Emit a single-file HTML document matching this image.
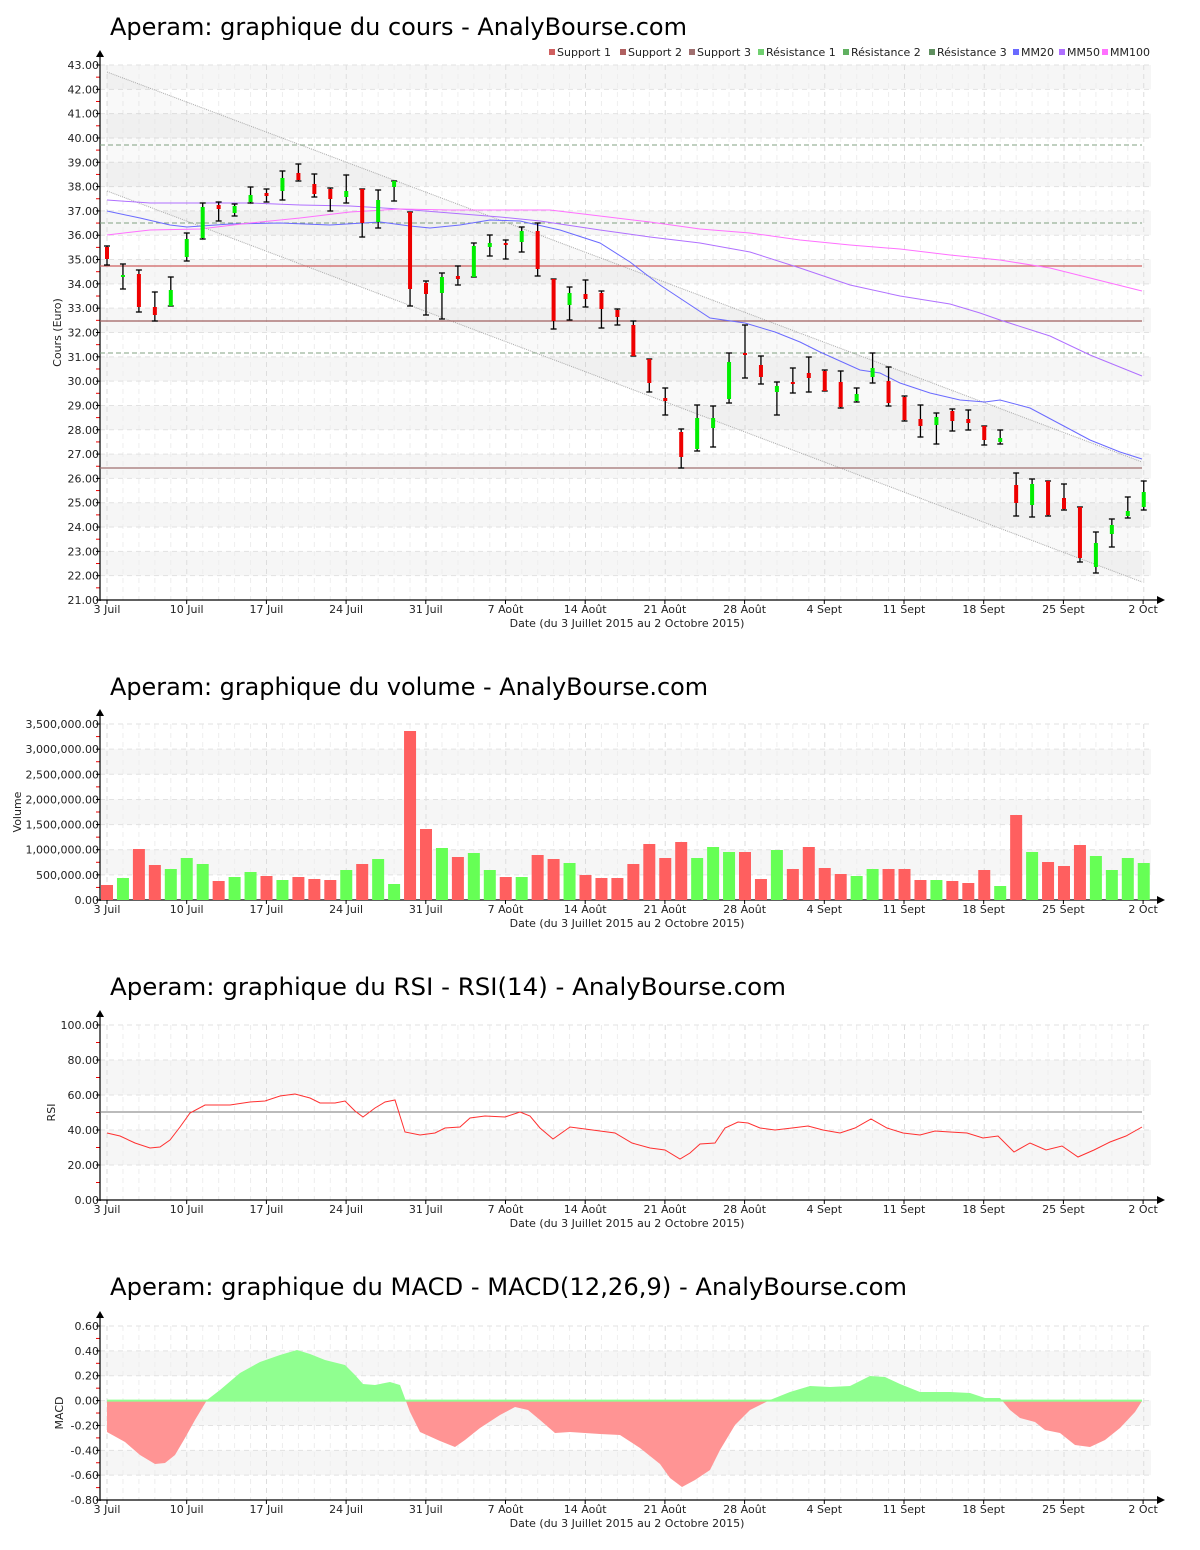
<!DOCTYPE html>
<html><head><meta charset="utf-8"><style>
body{margin:0;background:#fff;}
svg{display:block;font-family:"DejaVu Sans","Liberation Sans",sans-serif;}
</style></head><body>
<svg id="s" width="1200" height="1550" xmlns="http://www.w3.org/2000/svg">
<text x="110" y="35" font-size="24" fill="#000" textLength="577" lengthAdjust="spacingAndGlyphs">Aperam: graphique du cours - AnalyBourse.com</text>
<text x="110" y="695" font-size="24" fill="#000" textLength="598" lengthAdjust="spacingAndGlyphs">Aperam: graphique du volume - AnalyBourse.com</text>
<text x="110" y="995" font-size="24" fill="#000" textLength="676" lengthAdjust="spacingAndGlyphs">Aperam: graphique du RSI - RSI(14) - AnalyBourse.com</text>
<text x="110" y="1295" font-size="24" fill="#000" textLength="797" lengthAdjust="spacingAndGlyphs">Aperam: graphique du MACD - MACD(12,26,9) - AnalyBourse.com</text>
<g id="g"></g>
</svg>
<script>
var g=document.getElementById('g');var h='';
function X(i){return 107+i*15.95;}
var dates=['3 Juil','10 Juil','17 Juil','24 Juil','31 Juil','7 Août','14 Août','21 Août','28 Août','4 Sept','11 Sept','18 Sept','25 Sept','2 Oct'];
function frame(top,bot,bands,ylabels,ylab,ylabX){
 bands.forEach(function(b){h+='<rect x="100" y="'+b[0]+'" width="1051" height="'+(b[1]-b[0])+'" fill="#f6f6f6"/>';});
 for(var i=0;i<66;i++){var x=X(i);h+='<line x1="'+x+'" y1="'+top+'" x2="'+x+'" y2="'+bot+'" stroke="'+(i%5==0?'#ddd':'#eee')+'" stroke-dasharray="5,4"/>';}
 ylabels.forEach(function(l){h+='<line x1="100" y1="'+l[0]+'" x2="1151" y2="'+l[0]+'" stroke="#e2e2e2" stroke-dasharray="5,4"/>';
  h+='<text x="99" y="'+(l[0]+4)+'" font-size="11" text-anchor="end" fill="#222">'+l[1]+'</text>';
  h+='<line x1="96" y1="'+l[0]+'" x2="100" y2="'+l[0]+'" stroke="#000"/>';});
 for(var k=0;k<ylabels.length-1;k++){var ym=(ylabels[k][0]+ylabels[k+1][0])/2;h+='<line x1="96" y1="'+ym+'" x2="100" y2="'+ym+'" stroke="#e00"/>';}
 h+='<line x1="100" y1="'+(top-8)+'" x2="100" y2="'+(bot+1)+'" stroke="#000" stroke-width="1.2"/>';
 h+='<polygon points="96,'+(top-8)+' 104,'+(top-8)+' 100,'+(top-15)+'" fill="#000"/>';
 h+='<line x1="96" y1="'+bot+'" x2="1160" y2="'+bot+'" stroke="#000" stroke-width="1.2"/>';
 h+='<polygon points="1157,'+(bot-4)+' 1157,'+(bot+4)+' 1165,'+bot+'" fill="#000"/>';
 for(var d=0;d<14;d++){var x=107+d*79.7;h+='<line x1="'+x+'" y1="'+bot+'" x2="'+x+'" y2="'+(bot+4)+'" stroke="#000"/>';
  h+='<text x="'+x+'" y="'+(bot+13)+'" font-size="11" text-anchor="middle" fill="#222">'+dates[d]+'</text>';}
 h+='<text x="627" y="'+(bot+27)+'" font-size="11" text-anchor="middle" fill="#222">Date (du 3 Juillet 2015 au 2 Octobre 2015)</text>';
 var cy=(top+bot)/2;h+='<text x="'+ylabX+'" y="'+cy+'" font-size="11" text-anchor="middle" fill="#222" transform="rotate(-90 '+ylabX+' '+cy+')">'+ylab+'</text>';
}
function PY(p){return 65+(43-p)*24.318;}
var pb=[],pl=[];for(var p=43;p>=21;p--){pl.push([PY(p),p.toFixed(2)]);}
for(var p=43;p>21;p-=2){pb.push([PY(p),PY(p-1)]);}
frame(65,600,pb,pl,'Cours (Euro)',61);
h+='<polygon points="107,72 1142,462 1142,582 107,191" fill="rgba(0,0,0,0.025)"/>';
h+='<line x1="107" y1="72" x2="1142" y2="462" stroke="#aaa" stroke-dasharray="1,1"/>';
h+='<line x1="107" y1="191" x2="1142" y2="582" stroke="#aaa" stroke-dasharray="1,1"/>';
h+='<line x1="100" y1="266" x2="1142" y2="266" stroke="#d06060" stroke-width="1.2"/>';
h+='<line x1="100" y1="321" x2="1142" y2="321" stroke="#a06060" stroke-width="1.2"/>';
h+='<line x1="100" y1="468" x2="1142" y2="468" stroke="#a07070" stroke-width="1.2"/>';
[145,223,353].forEach(function(y){h+='<line x1="100" y1="'+y+'" x2="1142" y2="'+y+'" stroke="#80a080" stroke-dasharray="5,3"/>';});
function pl_(pts,c){h+='<polyline fill="none" stroke="'+c+'" stroke-width="1" points="'+pts.map(function(p){return p.join(',');}).join(' ')+'"/>';}
pl_([[107,211],[140,218],[170,225],[187,227],[230,224],[280,223],[330,225],[380,222],[410,226],[430,228],[460,225],[490,220],[520,221],[560,230],[600,243],[630,262],[660,285],[710,318],[745,323],[775,332],[800,342],[820,352],[860,370],[880,373],[900,383],[930,393],[960,400],[985,402],[1000,400],[1030,408],[1060,424],[1090,440],[1120,452],[1142,459]],'#6a6aff');
pl_([[107,200],[150,203],[200,203],[250,203],[300,205],[350,206],[400,209],[450,213],[500,217],[540,221],[600,230],[650,237],[700,243],[750,252],[800,268],[850,285],[900,296],[950,304],[980,313],[1000,320],[1050,336],[1090,355],[1142,376]],'#b070ff');
pl_([[107,235],[150,230],[200,229],[250,223],[300,218],[350,212],[400,209],[450,210],[500,210],[550,210],[600,216],[650,222],[700,229],[750,233],[800,240],[850,245],[900,249],[950,255],[1000,260],[1050,268],[1090,278],[1142,291]],'#ff70ff');
var C=[[246,265,247,259,0],[264,289,275,277,1],[270,312,274,307,0],[292,321,307,315,0],[277,306,290,306,1],[233,261,239,257,1],[203,239,207,238,1],[202,221,205,209,0],[204,216,206,213,1],[187,203,195,202,1],[189,202,193,196,0],[171,200,178,191,1],[164,181,173,180,0],[174,197,184,194,0],[188,211,189,199,0],[175,203,191,197,1],[189,237,189,223,0],[190,228,200,222,1],[181,201,181,187,1],[212,306,212,289,0],[281,315,283,294,0],[273,319,277,293,1],[266,285,276,279,0],[243,277,246,277,1],[235,256,243,247,1],[240,259,243,245,0],[227,252,231,242,1],[223,276,231,269,0],[279,329,279,321,0],[287,320,293,305,1],[280,307,294,299,0],[291,328,293,309,0],[309,325,310,317,0],[321,356,325,356,0],[359,392,359,383,0],[388,415,398,401,0],[429,468,432,457,0],[405,451,418,449,1],[406,447,418,428,1],[353,403,362,399,1],[325,378,353,355,0],[356,384,365,377,0],[382,415,386,392,1],[368,393,382,384,0],[357,392,373,378,0],[370,391,371,391,0],[371,408,382,407,0],[388,402,394,401,1],[353,383,368,377,1],[367,406,381,403,0],[396,421,397,420,0],[405,437,419,426,0],[413,444,417,425,1],[409,431,411,421,0],[410,430,419,423,0],[426,445,426,440,0],[430,444,438,442,1],[473,516,485,503,0],[479,517,484,505,1],[481,516,481,515,0],[484,510,498,509,0],[507,562,507,558,0],[532,573,543,567,1],[519,547,525,534,1],[497,518,511,516,1],[481,510,492,507,1]];
C.forEach(function(c,i){var x=X(i);h+='<line x1="'+x+'" y1="'+c[0]+'" x2="'+x+'" y2="'+c[1]+'" stroke="#000" stroke-width="1.3"/>';
 h+='<line x1="'+(x-3)+'" y1="'+c[0]+'" x2="'+(x+3)+'" y2="'+c[0]+'" stroke="#000" stroke-width="1.3"/><line x1="'+(x-3)+'" y1="'+c[1]+'" x2="'+(x+3)+'" y2="'+c[1]+'" stroke="#000" stroke-width="1.3"/>';
 h+='<rect x="'+(x-2)+'" y="'+c[2]+'" width="4" height="'+Math.max(2,c[3]-c[2])+'" fill="'+(c[4]?'#00ee00':'#ee0000')+'"/>';});
var lg=[['Support 1','#d06060'],['Support 2','#b06060'],['Support 3','#a07070'],['Résistance 1','#70d070'],['Résistance 2','#60b060'],['Résistance 3','#609060'],['MM20','#6a6aff'],['MM50','#b070ff'],['MM100','#ff70ff']];
var lx=[549,620,689,758,843,929,1013,1059,1102];
lg.forEach(function(l,i){h+='<rect x="'+lx[i]+'" y="49" width="6" height="6" fill="'+l[1]+'"/><text x="'+(lx[i]+8)+'" y="56" font-size="11" fill="#222">'+l[0]+'</text>';});
function VY(v){return 900-v/500000*25.14;}
var vb=[],vl=[];for(var v=3500000;v>=0;v-=500000){vl.push([VY(v),(v/1e6>=1?Math.floor(v/1e6)+','+('00'+Math.floor(v%1e6/1e3)).slice(-3)+',000.00':(v==0?'0.00':Math.floor(v/1e3)+',000.00'))]);}
[[3000000,2500000],[2000000,1500000],[1000000,500000]].forEach(function(b){vb.push([VY(b[0]),VY(b[1])]);});
frame(724,900,vb,vl,'Volume',21);
var V=[[885,0],[878,1],[849,0],[865,0],[869,1],[858,1],[864,1],[881,0],[877,1],[872,1],[876,0],[880,1],[877,0],[879,0],[880,0],[870,1],[864,0],[859,1],[884,1],[731,0],[829,0],[848,1],[857,0],[853,1],[870,1],[877,0],[877,1],[855,0],[859,0],[863,1],[875,0],[878,0],[878,0],[864,0],[844,0],[858,0],[842,0],[858,1],[847,1],[852,1],[852,0],[879,0],[850,1],[869,0],[847,0],[868,0],[874,0],[876,1],[869,1],[869,0],[869,0],[880,0],[880,1],[881,0],[883,0],[870,0],[886,1],[815,0],[852,1],[862,0],[866,0],[845,0],[856,1],[870,1],[858,1],[863,1]];
V.forEach(function(v,i){var x=X(i);h+='<rect x="'+(x-6)+'" y="'+v[0]+'" width="12" height="'+(900-v[0])+'" fill="'+(v[1]?'#66ff55':'#ff5f5f')+'"/>';});
function RY(r){return 1200-r*1.75;}
var rl=[];for(var r=100;r>=0;r-=20)rl.push([RY(r),r.toFixed(2)]);
frame(1025,1200,[[RY(80),RY(60)],[RY(40),RY(20)]],rl,'RSI',55);
h+='<line x1="100" y1="1112" x2="1142" y2="1112" stroke="#777"/>';
pl_([[107,1133],[120,1136],[135,1143],[150,1148],[160,1147],[170,1140],[180,1127],[190,1113],[205,1105],[230,1105],[250,1102],[265,1101],[280,1096],[295,1094],[310,1098],[320,1103],[335,1103],[345,1101],[355,1111],[363,1117],[375,1108],[385,1102],[395,1100],[405,1132],[420,1135],[435,1133],[445,1128],[460,1127],[470,1118],[485,1116],[505,1117],[520,1112],[530,1116],[540,1128],[553,1139],[570,1127],[585,1129],[600,1131],[615,1133],[632,1143],[650,1148],[665,1150],[680,1159],[690,1153],[700,1144],[715,1143],[725,1128],[738,1122],[748,1123],[760,1128],[775,1130],[792,1128],[808,1126],[823,1130],[840,1133],[855,1128],[871,1119],[887,1128],[903,1133],[920,1135],[935,1131],[950,1132],[967,1133],[983,1138],[998,1136],[1014,1152],[1030,1143],[1046,1150],[1062,1146],[1078,1157],[1094,1150],[1110,1142],[1126,1136],[1142,1127]],'#ff3030');
function MY(m){return 1400.6-m/0.2*24.86;}
var ml=[];for(var m=6;m>=-8;m-=2){var v=m/10;ml.push([MY(v),(v<0?'-':'')+Math.abs(v).toFixed(2)]);}
frame(1326,1500,[[MY(0.4),MY(0.2)],[MY(0),MY(-0.2)],[MY(-0.4),MY(-0.6)]],ml,'MACD',63);
var M=[[107,1432],[125,1442],[140,1455],[155,1464],[165,1463],[175,1455],[185,1438],[195,1420],[207,1400],[220,1390],[240,1373],[260,1362],[280,1355],[297,1350],[310,1354],[325,1360],[345,1365],[355,1375],[363,1384],[375,1385],[390,1382],[400,1385],[410,1412],[420,1432],[440,1441],[455,1447],[465,1440],[480,1428],[500,1415],[515,1407],[528,1410],[540,1420],[555,1433],[570,1432],[600,1434],[620,1435],[640,1448],[660,1464],[670,1478],[682,1487],[695,1480],[710,1470],[720,1450],[735,1425],[750,1410],[770,1400],[790,1392],[810,1386],[830,1387],[850,1386],[870,1376],[885,1377],[900,1384],[920,1392],[950,1392],[970,1393],[985,1398],[1000,1398],[1010,1410],[1020,1418],[1035,1422],[1045,1430],[1060,1433],[1075,1445],[1090,1447],[1105,1440],[1120,1428],[1135,1412],[1142,1401]];
var Z=1400.6;
h+='<defs><clipPath id="ca"><rect x="0" y="0" width="1200" height="'+Z+'"/></clipPath><clipPath id="cb"><rect x="0" y="'+Z+'" width="1200" height="200"/></clipPath></defs>';
var poly='107,'+Z+' '+M.map(function(p){return p.join(',');}).join(' ')+' 1142,'+Z;
h+='<polygon points="'+poly+'" fill="#90ff90" clip-path="url(#ca)"/>';
h+='<polygon points="'+poly+'" fill="#ff9494" clip-path="url(#cb)"/>';
h+='<line x1="107" y1="'+Z+'" x2="1142" y2="'+Z+'" stroke="#90ff90" stroke-width="2"/>';
g.innerHTML=h;
</script>
</body></html>
